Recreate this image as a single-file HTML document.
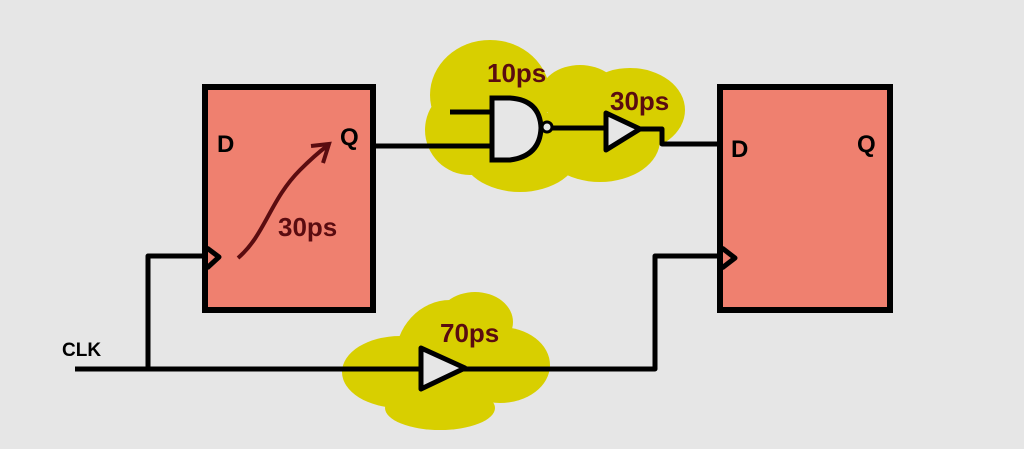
<!DOCTYPE html>
<html><head><style>html,body{margin:0;padding:0;background:#e6e6e6;}svg{display:block}</style></head>
<body>
<svg width="1024" height="449" viewBox="0 0 1024 449" xmlns="http://www.w3.org/2000/svg">
<rect width="1024" height="449" fill="#e6e6e6"/>
<g fill="#d8cf00">
<ellipse cx="490" cy="95" rx="60" ry="55"/>
<ellipse cx="470" cy="130" rx="45" ry="45"/>
<ellipse cx="520" cy="150" rx="60" ry="42"/>
<ellipse cx="600" cy="140" rx="60" ry="42"/>
<ellipse cx="630" cy="110" rx="55" ry="42"/>
<ellipse cx="580" cy="95" rx="40" ry="30"/>
<ellipse cx="450" cy="360" rx="55" ry="60"/>
<ellipse cx="400" cy="372" rx="58" ry="36"/>
<ellipse cx="500" cy="365" rx="50" ry="38"/>
<ellipse cx="440" cy="408" rx="55" ry="22"/>
<ellipse cx="475" cy="322" rx="38" ry="30"/>
</g>
<rect x="205" y="87" width="168" height="223" fill="#ef806f" stroke="#000" stroke-width="6"/>
<rect x="720" y="87" width="170" height="223" fill="#ef806f" stroke="#000" stroke-width="6"/>
<g fill="none" stroke="#000" stroke-width="5" stroke-linejoin="round">
<polyline points="207,248 219,257 207,268"/>
<polyline points="722,248 735,258 722,268"/>
<line x1="373" y1="146" x2="492" y2="146"/>
<line x1="450" y1="112" x2="492" y2="112"/>
<line x1="552" y1="128" x2="606" y2="128"/>
<polyline points="640,129 662,129 662,144 720,144"/>
<polyline points="75,369 655,369 655,256 720,256"/>
<polyline points="148,369 148,256 205,256"/>
</g>
<path d="M492,98 L510,98 Q540,100 541,128 Q540,156 510,160 L492,160 Z" fill="#e6e6e6" stroke="#000" stroke-width="5"/>
<circle cx="547" cy="127" r="5" fill="#e6e6e6" stroke="#000" stroke-width="3"/>
<polygon points="606,113 640,129 606,150" fill="#e6e6e6" stroke="#000" stroke-width="5" stroke-linejoin="round"/>
<polygon points="421,348 465,368 421,389" fill="#e6e6e6" stroke="#000" stroke-width="5" stroke-linejoin="round"/>
<path d="M238,258 C265,235 270,200 300,170 Q315,155 327,146" fill="none" stroke="#5a0c10" stroke-width="4"/>
<polyline points="311,146 329,144 323,163" fill="none" stroke="#5a0c10" stroke-width="4"/>
<g font-family="Liberation Sans, sans-serif" font-weight="bold">
<text x="217" y="152" font-size="24">D</text>
<text x="340" y="145" font-size="24">Q</text>
<text x="731" y="157" font-size="24">D</text>
<text x="857" y="152" font-size="24">Q</text>
<text x="62" y="356" font-size="19">CLK</text>
</g>
<g font-family="Liberation Sans, sans-serif" font-size="26" font-weight="bold" fill="#5a0c10">
<text x="278" y="236">30ps</text>
<text x="487" y="82">10ps</text>
<text x="610" y="110">30ps</text>
<text x="440" y="342">70ps</text>
</g>
</svg>
</body></html>
